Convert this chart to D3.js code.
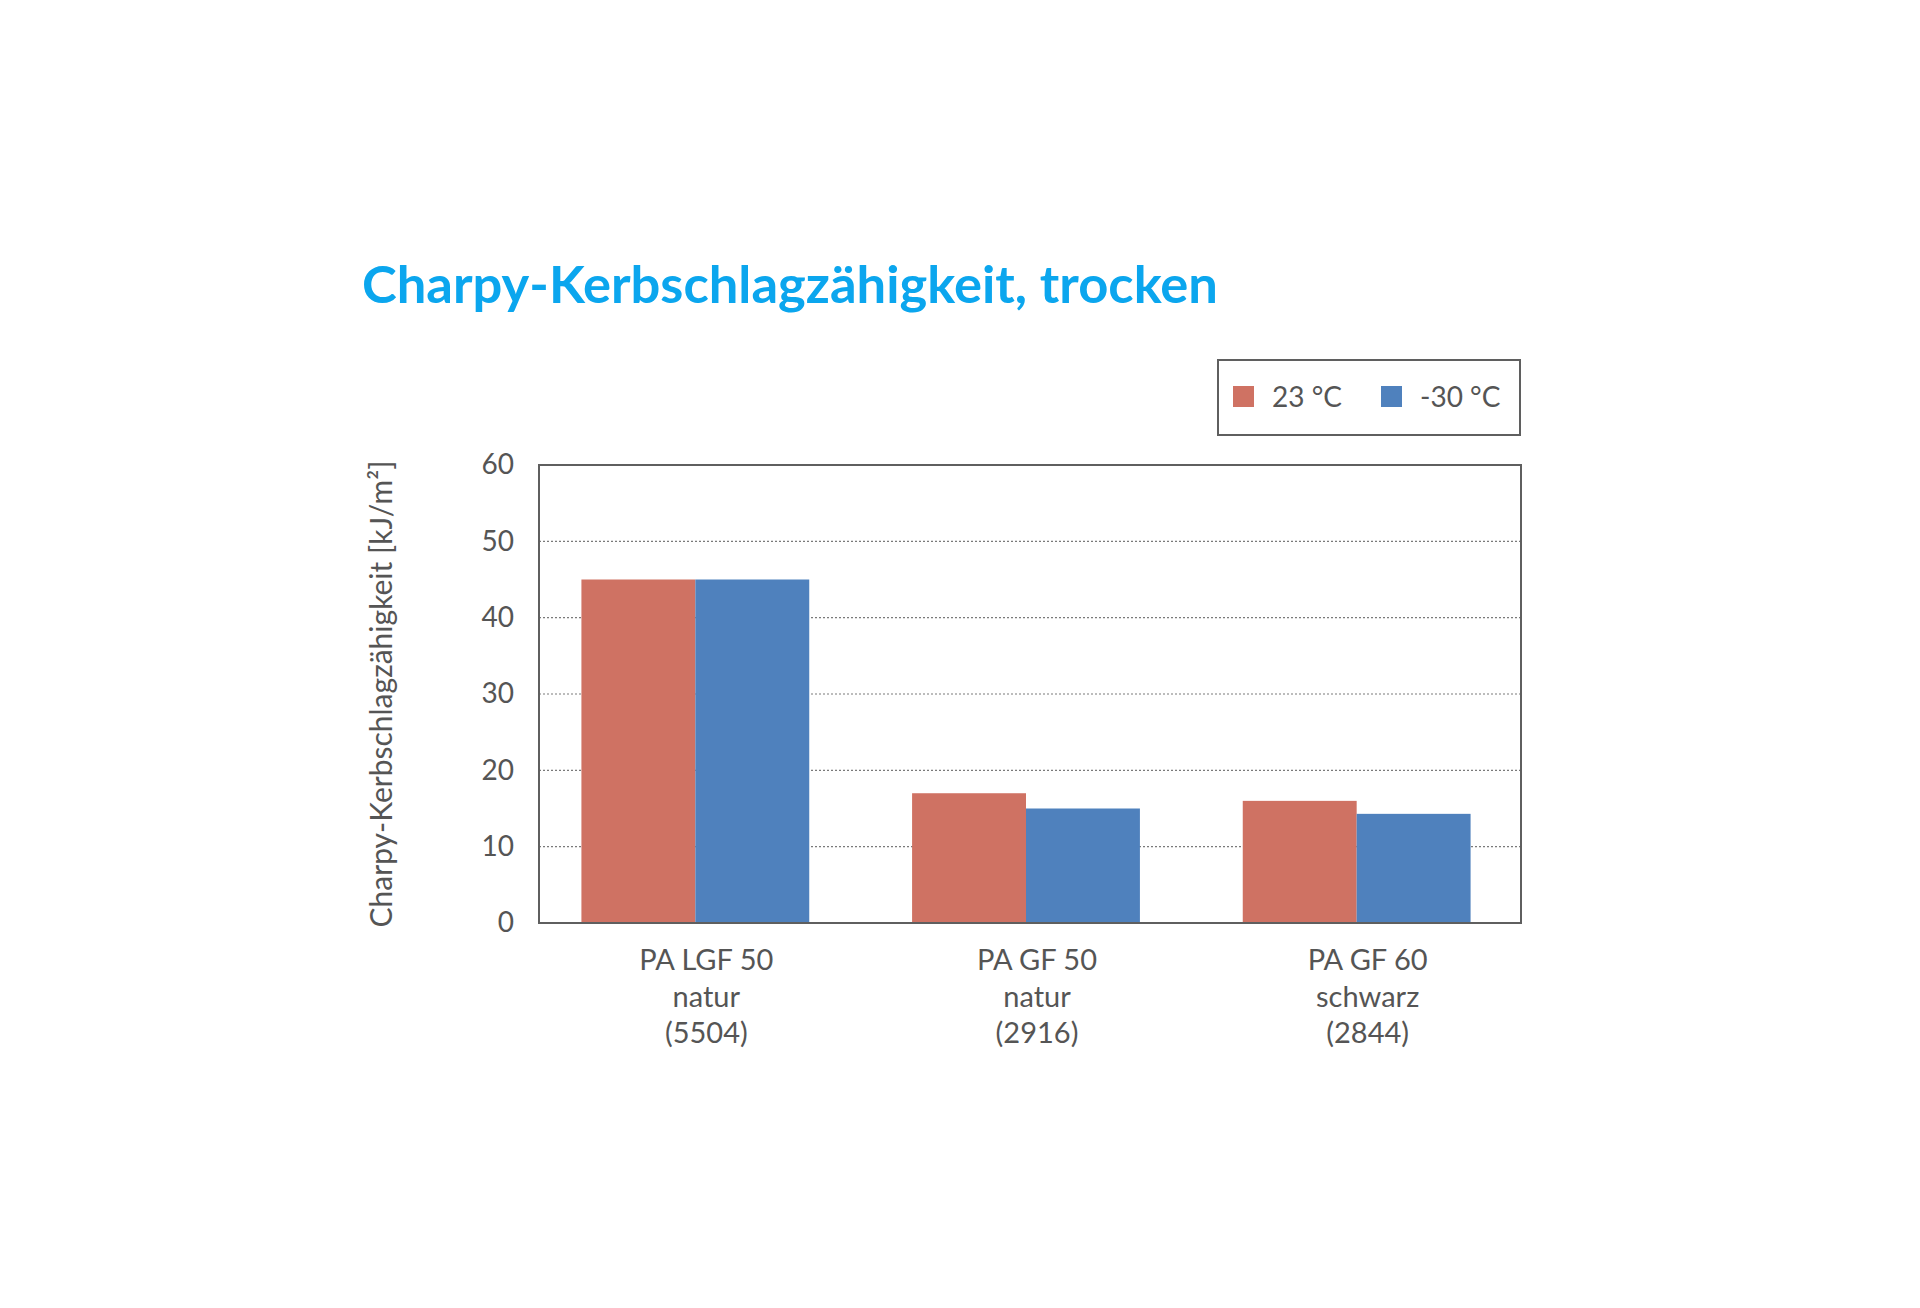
<!DOCTYPE html>
<html>
<head>
<meta charset="utf-8">
<script src="https://cdn.jsdelivr.net/npm/d3@7"></script>
<style>
  html, body { margin: 0; padding: 0; background: #fff; }
  svg { display: block; font-family: Lato, "Open Sans", sans-serif; }
</style>
</head>
<body>
<div id="chart"></div>
<script>
// data
const categories = ["PA LGF 50|natur|(5504)", "PA GF 50|natur|(2916)", "PA GF 60|schwarz|(2844)"];
const seriesNames = ["23 °C", "-30 °C"];
const values23 = [45, 17, 16];
const valuesMinus30 = [45, 15, 14.3];
const yTicks = [0, 10, 20, 30, 40, 50, 60];

const width = 1920, height = 1308;
const colors = ["#cf7263", "#4f81bd"];
const textColor = "#555555";

const svg = d3.select("#chart").append("svg")
  .attr("width", width)
  .attr("height", height)
  .attr("viewBox", `0 0 ${width} ${height}`);

svg.append("rect").attr("width", width).attr("height", height).attr("fill", "#fff");

// plot frame
const plot = { left: 539, right: 1521, top: 465, bottom: 923 };

const rows = categories.map((c, i) => ({ cat: c, vals: [values23[i], valuesMinus30[i]] }));

const x = d3.scaleBand()
  .domain(categories)
  .range([530, 1522])
  .paddingInner(0.311)
  .paddingOuter(0.1555);

const xs = d3.scaleBand()
  .domain(seriesNames)
  .range([0, x.bandwidth()]);

const y = d3.scaleLinear()
  .domain([0, 60])
  .range([plot.bottom, plot.top]);

// title
svg.append("text")
  .attr("x", 362)
  .attr("y", 303)
  .attr("font-size", 52.5)
  .attr("font-weight", 700)
  .attr("fill", "#0ba6ee")
  .text("Charpy-Kerbschlagzähigkeit, trocken");

// gridlines
svg.append("g")
  .selectAll("line")
  .data(yTicks.filter(t => t > 0 && t < 60))
  .join("line")
  .attr("x1", plot.left)
  .attr("x2", plot.right)
  .attr("y1", d => y(d))
  .attr("y2", d => y(d))
  .attr("stroke", "#7a7a7a")
  .attr("stroke-width", 1.2)
  .attr("stroke-dasharray", "2,2");

// bars
const groups = svg.append("g")
  .selectAll("g")
  .data(rows)
  .join("g")
  .attr("transform", d => `translate(${x(d.cat)},0)`);

groups.selectAll("rect")
  .data(d => d.vals.map((v, i) => ({ name: seriesNames[i], v, i })))
  .join("rect")
  .attr("x", d => xs(d.name))
  .attr("width", xs.bandwidth())
  .attr("y", d => y(d.v))
  .attr("height", d => y(0) - y(d.v))
  .attr("fill", d => colors[d.i]);

// frame
svg.append("rect")
  .attr("x", plot.left)
  .attr("y", plot.top)
  .attr("width", plot.right - plot.left)
  .attr("height", plot.bottom - plot.top)
  .attr("fill", "none")
  .attr("stroke", "#5f5f5f")
  .attr("stroke-width", 2);

// y axis labels
const yAxis = d3.axisLeft(y).tickValues(yTicks).tickSize(0).tickPadding(25);
svg.append("g")
  .attr("transform", `translate(${plot.left},0)`)
  .call(yAxis)
  .call(g => g.select(".domain").remove())
  .call(g => g.selectAll("text")
    .attr("font-family", "Lato, 'Open Sans', sans-serif")
    .attr("font-size", 28)
    .attr("fill", textColor));

// x category labels
const xl = svg.append("g")
  .selectAll("text")
  .data(categories)
  .join("text")
  .attr("x", d => x(d) + x.bandwidth() / 2 + 11)
  .attr("y", 970)
  .attr("text-anchor", "middle")
  .attr("font-size", 29)
  .attr("fill", textColor);

xl.selectAll("tspan")
  .data(d => d.split("|"))
  .join("tspan")
  .attr("x", function() { return d3.select(this.parentNode).attr("x"); })
  .attr("dy", (d, i) => i === 0 ? 0 : 36.5)
  .text(d => d);

// y axis title
svg.append("text")
  .attr("transform", `translate(380,${(plot.top + plot.bottom) / 2}) rotate(-90)`)
  .attr("text-anchor", "middle")
  .attr("dominant-baseline", "central")
  .attr("font-size", 30)
  .attr("fill", textColor)
  .text("Charpy-Kerbschlagzähigkeit [kJ/m²]");

// legend
const legend = svg.append("g");
legend.append("rect")
  .attr("x", 1218)
  .attr("y", 360)
  .attr("width", 302)
  .attr("height", 75)
  .attr("fill", "#fff")
  .attr("stroke", "#5f5f5f")
  .attr("stroke-width", 2);

const legendX = [1233, 1381];
const items = legend.selectAll("g.item")
  .data(seriesNames)
  .join("g")
  .attr("class", "item")
  .attr("transform", (d, i) => `translate(${legendX[i]},386)`);

items.append("rect")
  .attr("width", 21)
  .attr("height", 21)
  .attr("fill", (d, i) => colors[i]);

items.append("text")
  .attr("x", 39)
  .attr("y", 21)
  .attr("font-size", 28)
  .attr("fill", textColor)
  .text(d => d);
</script>
</body>
</html>
